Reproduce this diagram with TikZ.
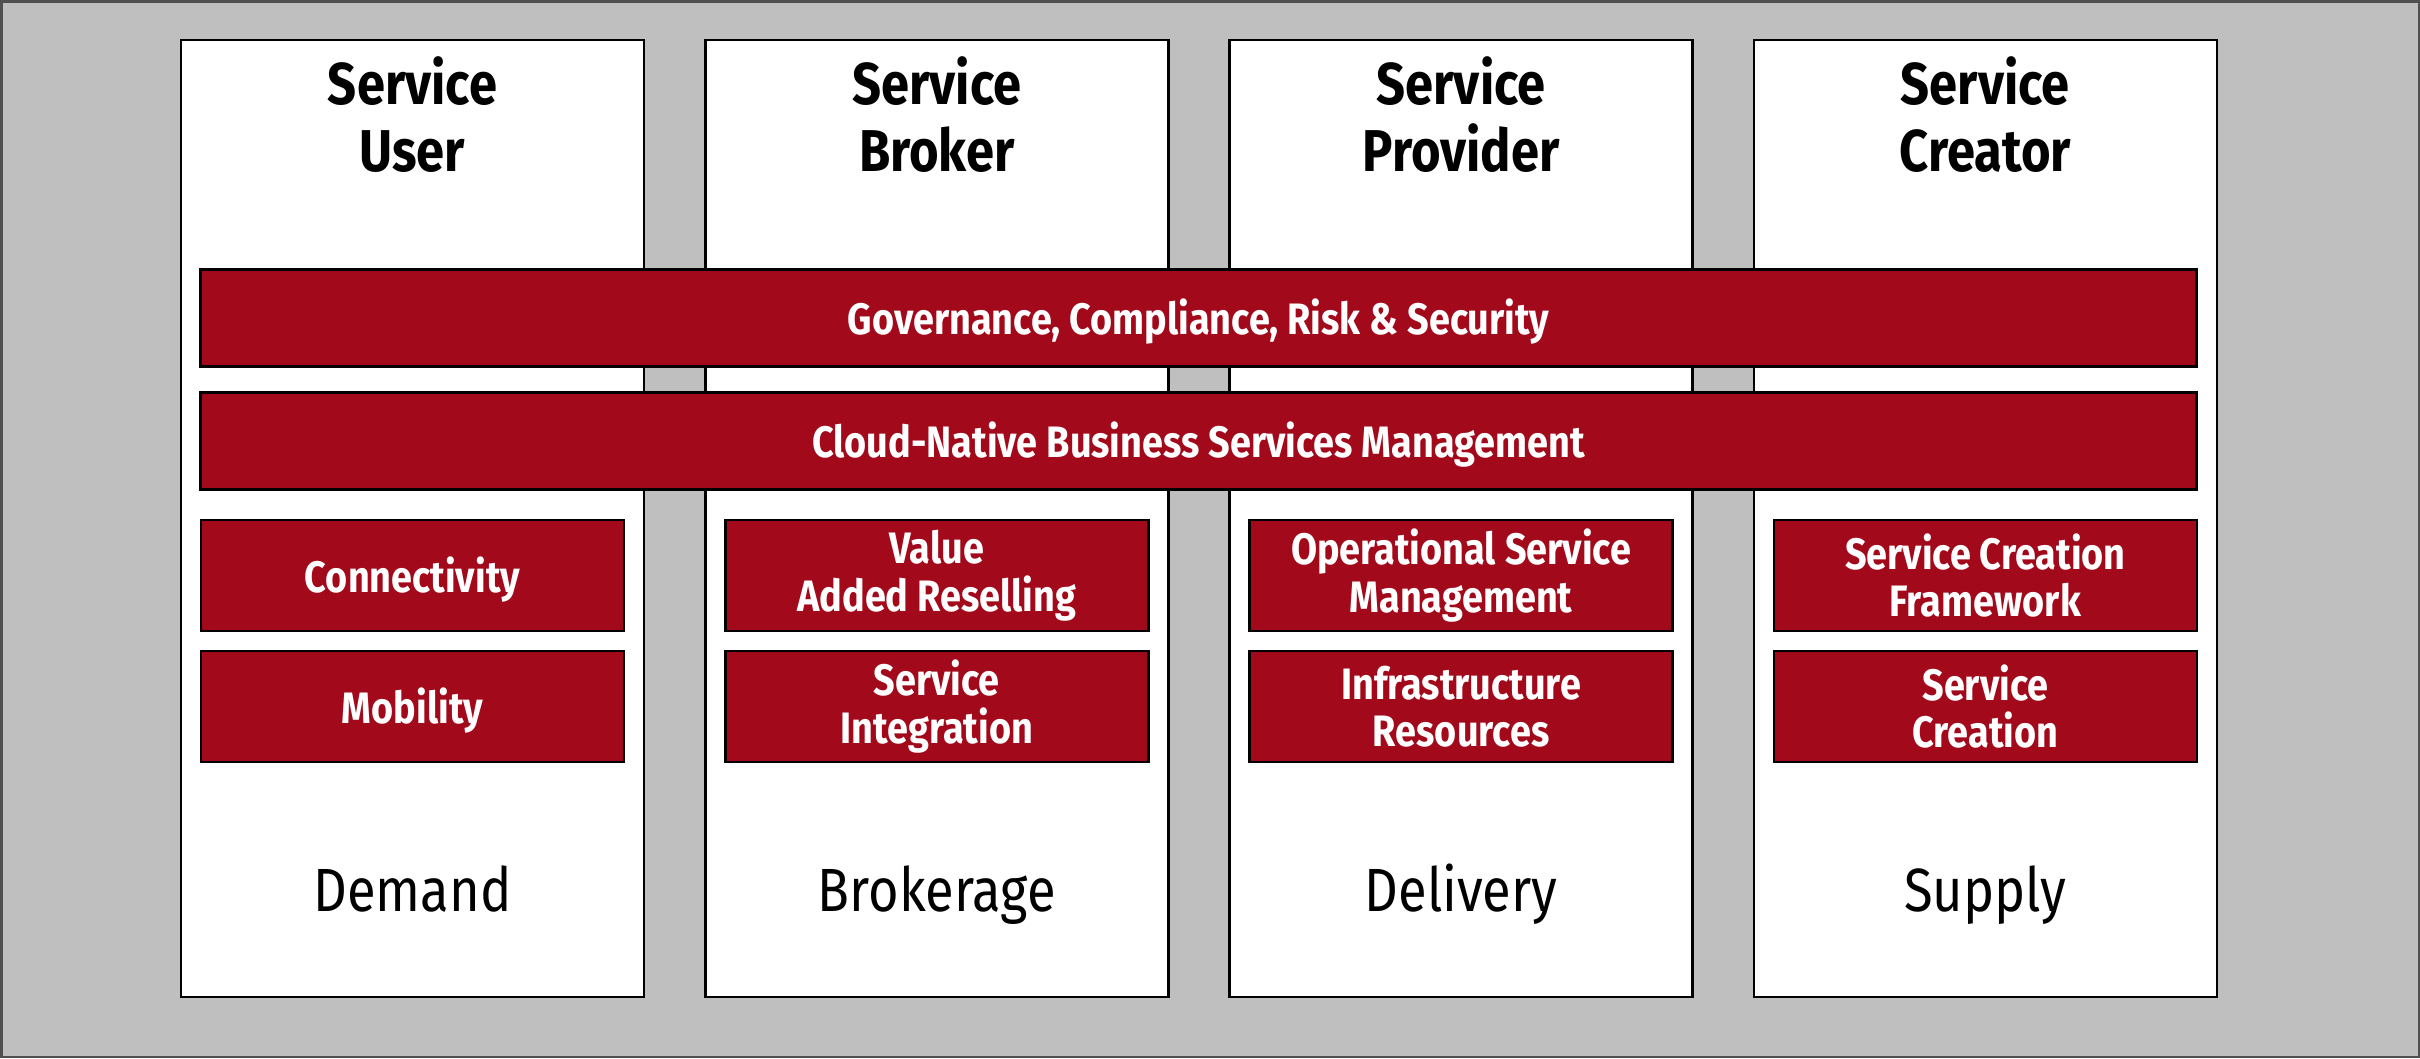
\documentclass[tikz,border=0pt]{standalone}
\usepackage{fontspec}
\setmainfont{Fira Sans}[FakeStretch=0.86]
\definecolor{fjred}{HTML}{A20A1C}
\definecolor{bggray}{HTML}{BFBFBF}
\definecolor{frame}{HTML}{505050}
\begin{document}
\begin{tikzpicture}[x=1pt,y=-1pt,
  col/.style={draw=black, line width=2.5pt, fill=white, minimum width=463pt, minimum height=957pt, inner sep=0pt},
  redbox/.style={draw=black, line width=2.5pt, fill=fjred, text=white, inner sep=0pt, align=center, font=\bfseries\fontsize{44}{47.5}\selectfont},
  small/.style={redbox, minimum width=423pt, minimum height=111pt},
  oneline/.style={text depth=2pt},
  wide/.style={redbox, oneline, minimum width=1996pt, minimum height=97pt},
  head/.style={align=center, font=\bfseries\fontsize{59}{67}\selectfont},
  foot/.style={anchor=base, font=\fontsize{61}{70}\selectfont}]
\useasboundingbox (0,0) rectangle (2420,1058);
\fill[bggray] (0,0) rectangle (2420,1058);
\draw[frame, line width=2.5pt] (1.25,1.25) rectangle (2418.75,1056.75);
% columns
\node[col] (c1) at (412.5,518.5) {};
\node[col] (c2) at (936.8,518.5) {};
\node[col] (c3) at (1461.1,518.5) {};
\node[col] (c4) at (1985.4,518.5) {};
% headings
\node[head] (h1) at (412.5,115) {Service\\User};
\node[head] (h2) at (936.8,115) {Service\\Broker};
\node[head] (h3) at (1461.1,115) {Service\\Provider};
\node[head] (h4) at (1985.4,115) {Service\\Creator};
% wide bars
\node[wide] (gov) at (1198.6,318) {Governance, Compliance, Risk \& Security};
\node[wide] (cnb) at (1198.6,441) {Cloud-Native Business Services Management};
% small boxes
\node[small, oneline] (s11) at (412.5,575.5) {Connectivity};
\node[small, oneline] (s12) at (412.5,706.5) {Mobility};
\node[small] (s21) at (936.8,575.5) {Value\\Added Reselling};
\node[small] (s22) at (936.8,706.5) {Service\\Integration};
\node[small] (s31) at (1461.1,575.5) {Operational Service\\Management};
\node[small] (s32) at (1461.1,706.5) {Infrastructure\\Resources};
\node[small] (s41) at (1985.4,575.5) {Service Creation\\Framework};
\node[small] (s42) at (1985.4,706.5) {Service\\Creation};
% footers
\node[foot] (f1) at (412.5,911) {Demand};
\node[foot] (f2) at (936.8,911) {Brokerage};
\node[foot] (f3) at (1461.1,911) {Delivery};
\node[foot] (f4) at (1985.4,911) {Supply};
\end{tikzpicture}
\end{document}
